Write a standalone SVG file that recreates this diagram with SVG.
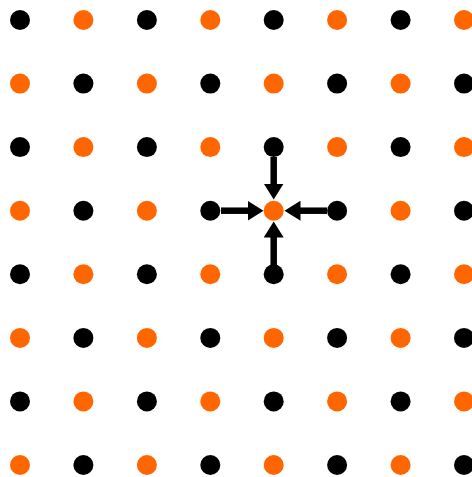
<svg xmlns="http://www.w3.org/2000/svg" width="472" height="477" viewBox="0 0 472 477">
<style>
.b{fill:#000}
.o{fill:#ff6600}
.a{stroke:#000;stroke-width:6.5;fill:none}
</style>
<defs>
<marker id="ah" markerUnits="userSpaceOnUse" markerWidth="17" markerHeight="20" refX="0.5" refY="10" orient="auto" viewBox="0 0 17 20">
<path d="M0,0 L16,10 L0,20 z" fill="#000"/>
</marker>
</defs>
<rect width="472" height="477" fill="#fff"/>
<g id="dots">
<g id="r0">
<circle class="b" cx="20" cy="20" r="10"/><circle class="o" cx="83.4" cy="20" r="10"/><circle class="b" cx="146.9" cy="20" r="10"/><circle class="o" cx="210.3" cy="20" r="10"/><circle class="b" cx="273.7" cy="20" r="10"/><circle class="o" cx="337.1" cy="20" r="10"/><circle class="b" cx="400.6" cy="20" r="10"/><circle class="o" cx="464" cy="20" r="10"/>
</g>
<g id="r1">
<circle class="o" cx="20" cy="83.6" r="10"/><circle class="b" cx="83.4" cy="83.6" r="10"/><circle class="o" cx="146.9" cy="83.6" r="10"/><circle class="b" cx="210.3" cy="83.6" r="10"/><circle class="o" cx="273.7" cy="83.6" r="10"/><circle class="b" cx="337.1" cy="83.6" r="10"/><circle class="o" cx="400.6" cy="83.6" r="10"/><circle class="b" cx="464" cy="83.6" r="10"/>
</g>
<g id="r2">
<circle class="b" cx="20" cy="147.1" r="10"/><circle class="o" cx="83.4" cy="147.1" r="10"/><circle class="b" cx="146.9" cy="147.1" r="10"/><circle class="o" cx="210.3" cy="147.1" r="10"/><circle class="b" cx="273.7" cy="147.1" r="10"/><circle class="o" cx="337.1" cy="147.1" r="10"/><circle class="b" cx="400.6" cy="147.1" r="10"/><circle class="o" cx="464" cy="147.1" r="10"/>
</g>
<g id="r3">
<circle class="o" cx="20" cy="210.7" r="10"/><circle class="b" cx="83.4" cy="210.7" r="10"/><circle class="o" cx="146.9" cy="210.7" r="10"/><circle class="b" cx="210.3" cy="210.7" r="10"/><circle class="o" cx="273.7" cy="210.7" r="10"/><circle class="b" cx="337.1" cy="210.7" r="10"/><circle class="o" cx="400.6" cy="210.7" r="10"/><circle class="b" cx="464" cy="210.7" r="10"/>
</g>
<g id="r4">
<circle class="b" cx="20" cy="274.3" r="10"/><circle class="o" cx="83.4" cy="274.3" r="10"/><circle class="b" cx="146.9" cy="274.3" r="10"/><circle class="o" cx="210.3" cy="274.3" r="10"/><circle class="b" cx="273.7" cy="274.3" r="10"/><circle class="o" cx="337.1" cy="274.3" r="10"/><circle class="b" cx="400.6" cy="274.3" r="10"/><circle class="o" cx="464" cy="274.3" r="10"/>
</g>
<g id="r5">
<circle class="o" cx="20" cy="337.9" r="10"/><circle class="b" cx="83.4" cy="337.9" r="10"/><circle class="o" cx="146.9" cy="337.9" r="10"/><circle class="b" cx="210.3" cy="337.9" r="10"/><circle class="o" cx="273.7" cy="337.9" r="10"/><circle class="b" cx="337.1" cy="337.9" r="10"/><circle class="o" cx="400.6" cy="337.9" r="10"/><circle class="b" cx="464" cy="337.9" r="10"/>
</g>
<g id="r6">
<circle class="b" cx="20" cy="401.4" r="10"/><circle class="o" cx="83.4" cy="401.4" r="10"/><circle class="b" cx="146.9" cy="401.4" r="10"/><circle class="o" cx="210.3" cy="401.4" r="10"/><circle class="b" cx="273.7" cy="401.4" r="10"/><circle class="o" cx="337.1" cy="401.4" r="10"/><circle class="b" cx="400.6" cy="401.4" r="10"/><circle class="o" cx="464" cy="401.4" r="10"/>
</g>
<g id="r7">
<circle class="o" cx="20" cy="465" r="10"/><circle class="b" cx="83.4" cy="465" r="10"/><circle class="o" cx="146.9" cy="465" r="10"/><circle class="b" cx="210.3" cy="465" r="10"/><circle class="o" cx="273.7" cy="465" r="10"/><circle class="b" cx="337.1" cy="465" r="10"/><circle class="o" cx="400.6" cy="465" r="10"/><circle class="b" cx="464" cy="465" r="10"/>
</g>
</g>
<g id="connectors">
<line class="a" x1="221" y1="210.7" x2="248" y2="210.7" marker-end="url(#ah)"/>
<line class="a" x1="327" y1="210.7" x2="300" y2="210.7" marker-end="url(#ah)"/>
<line class="a" x1="273.7" y1="157" x2="273.7" y2="184" marker-end="url(#ah)"/>
<line class="a" x1="273.7" y1="265" x2="273.7" y2="237" marker-end="url(#ah)"/>
</g>
</svg>
